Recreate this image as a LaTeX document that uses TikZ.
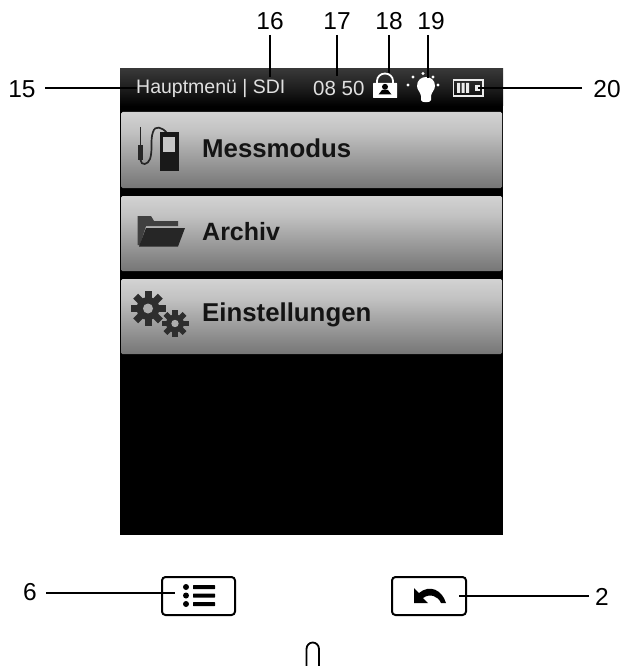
\documentclass[tikz,border=0pt]{standalone}
\usepackage{fontspec}
\setmainfont{Liberation Sans}
\usetikzlibrary{calc}
\pgfdeclareverticalshading{btnshade}{100bp}{
 color(0bp)=(black!72);color(12bp)=(black!62);color(30bp)=(black!50);color(50bp)=(black!34);color(62bp)=(black!24);color(80bp)=(black!15);color(95bp)=(black!10);color(100bp)=(black!6)}
\pgfdeclareverticalshading{barshade}{100bp}{
 color(0bp)=(black);color(25bp)=(black);color(50bp)=(black!88);color(75bp)=(black!78);color(100bp)=(black!70)}
\tikzset{
 lab/.style={font=\fontsize{24.5}{24.5}\selectfont,inner sep=0pt,text=black},
 lead/.style={draw=black,line width=2pt},
 btn/.style={rounded corners=1.5pt,shading=btnshade},
 btntext/.style={font=\bfseries\fontsize{25.8}{25.8}\selectfont,anchor=west,inner sep=0pt,text=black!92},
 bartext/.style={font=\fontsize{19.5}{19.5}\selectfont,inner sep=0pt,text=black!12},
 key/.style={draw=black,line width=2pt,rounded corners=3.5pt,fill=white},
}
\newcommand{\geartwo}[6]{% cx cy outer inner hole rotation
 \fill[black!82] (#1,#2) circle (#4);
 \foreach \a in {0,45,...,315}{
  \fill[black!82,rotate around={\a+#6:(#1,#2)}] (#1-#3*0.2,#2) rectangle (#1+#3*0.2,#2-#3);
 }
 \fill[black!32] (#1,#2) circle (#5);
}
\begin{document}
\begin{tikzpicture}[x=1pt,y=-1pt]
\useasboundingbox (0,0) rectangle (623,666);
% screen
\fill[black] (120,69) rectangle (503,535);
\shade[shading=barshade] (120,69) rectangle (503,106);
% menu buttons
\shade[btn] (121,112) rectangle (502,188);
\shade[btn] (121,196) rectangle (502,271);
\shade[btn] (121,279) rectangle (502,354);
\node[btntext] (mess) at (202,148) {Messmodus};
\node[btntext,font=\bfseries\fontsize{25}{25}\selectfont] (arch) at (202,232) {Archiv};
\node[btntext] (einst) at (202,314.5) {Einstellungen};
% probe icon
\draw[black!85,line width=1.4pt] (140.5,127) -- (140.5,146);
\fill[black!85] (138,145) rectangle (143,160);
\draw[black!85,line width=1.7pt] (140.5,160) .. controls (141,166) and (148,165) .. (150,159) .. controls (153,150) and (150,140) .. (153,132) .. controls (155,125) and (162,127) .. (167,133);
\fill[black!90] (160,132) rectangle (179,171);
\fill[black!22] (163,137) rectangle (175,152);
% folder icon
\fill[black!75] (137.5,245) -- (137.5,216) -- (151,216) -- (154,221) -- (178,221) -- (178,226) -- (146,226) -- (140,245) -- cycle;
\fill[black!85] (139,246.5) -- (146,228) -- (185,228) -- (178,246.5) -- cycle;
% gears
\geartwo{148}{308.5}{17.5}{11.5}{5}{0}
\geartwo{175}{323.5}{13.5}{9}{3.7}{0}
% status bar
\node[bartext,anchor=west] (titel) at (136,88.5) {Hauptmenü | SDI};
\node[bartext,anchor=west,font=\fontsize{20.5}{20.5}\selectfont] (zeit) at (313,88.5) {08 50};
% lock
\draw[white,line width=1.8pt] (377,84) -- (377,81) arc (180:360:8 and 7.5) -- (393,84);
\fill[white,rounded corners=0.5pt] (373,83) rectangle (397,98);
\fill[black] (385,86.8) circle (3);
\fill[black] (378.5,94.5) -- (382,90) -- (388,90) -- (391.5,94.5) -- cycle;
% bulb
\fill[white] (417,86) .. controls (417,74) and (435,74) .. (435,86) .. controls (435,90) and (431.5,92) .. (431,96) -- (431,100) .. controls (431,103) and (421,103) .. (421,100) -- (421,96) .. controls (420.5,92) and (417,90) .. (417,86) -- cycle;
\foreach \p in {(408,85),(413,77),(423,73.5),(433,77),(438,85)}{\fill[white] \p circle (1.6);}
% battery
\draw[black!8,line width=1.7pt] (453.5,80) rectangle (483,96);
\fill[black!8] (457,83) rectangle (460,93) (461.5,83) rectangle (464.5,93) (466,83) rectangle (469,93);
\fill[black!8] (475,85) rectangle (480,91);
% keys
\node[key,minimum width=73pt,minimum height=38pt,inner sep=0pt] (menukey) at (198.5,596) {};
\node[key,minimum width=74pt,minimum height=38pt,inner sep=0pt] (backkey) at (429,596) {};
\fill[black] (186,587) circle (3) (186,595.5) circle (3) (186,604) circle (3);
\fill[black,rounded corners=0.5pt] (193,585) rectangle (215,589) (193,593.5) rectangle (215,597.5) (193,602) rectangle (215,606);
\fill[black] (414,588) -- (414,603) -- (428,603) -- (423,598) .. controls (430,593) and (438,596) .. (441,603) -- (446,603) .. controls (442,590) and (430,584) .. (419,593) -- cycle;
% bottom arc
\coordinate (arcl) at (306.5,666);
\coordinate (arcr) at (319,666);
\draw[black,line width=1.8pt] (arcl) -- (306.5,649) arc (180:360:6.25 and 6.5) -- (arcr);
% labels
\node[lab] (l15) at (22,89) {15};
\node[lab] (l16) at (270,21) {16};
\node[lab] (l17) at (337,21) {17};
\node[lab] (l18) at (389,21) {18};
\node[lab] (l19) at (431,21) {19};
\node[lab] (l20) at (607,89) {20};
\node[lab] (l6) at (30,592) {6};
\node[lab] (l2) at (602,597) {2};
% connector ends
\coordinate (t15) at (137,88.5);
\coordinate (s15) at (45,88.5);
\coordinate (t16) at (270,77);
\coordinate (s16) at (270,35);
\coordinate (t17) at (337,76);
\coordinate (s17) at (337,35);
\coordinate (t18) at (389,73);
\coordinate (s18) at (389,35);
\coordinate (t19) at (428,78);
\coordinate (s19) at (428,35);
\coordinate (t20) at (478,88);
\coordinate (s20) at (582,88);
\coordinate (t6) at (175,593);
\coordinate (s6) at (46,593);
\coordinate (t2) at (459,596);
\coordinate (s2) at (589,596);
\foreach \n in {15,16,17,18,19,20,6,2}{\draw[lead] (s\n) -- (t\n);}
\end{tikzpicture}
\end{document}
